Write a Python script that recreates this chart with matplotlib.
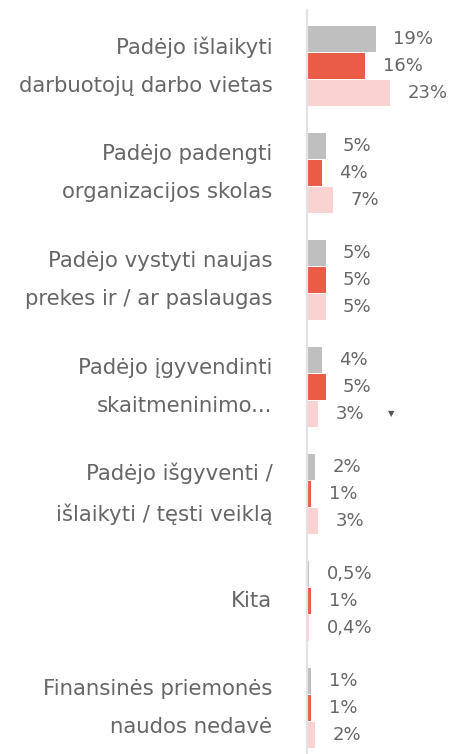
import matplotlib.pyplot as plt
import numpy as np

# data
categories = ["Padėjo išlaikyti\ndarbuotojų darbo vietas",
              "Padėjo padengti\norganizacijos skolas",
              "Padėjo vystyti naujas\nprekes ir / ar paslaugas",
              "Padėjo įgyvendinti\nskaitmeninimo...",
              "Padėjo išgyventi /\nišlaikyti / tęsti veiklą",
              "Kita",
              "Finansinės priemonės\nnaudos nedavė"]
gray_vals = [19, 5, 5, 4, 2, 0.5, 1]
red_vals = [16, 4, 5, 5, 1, 1, 1]
pink_vals = [23, 7, 5, 3, 3, 0.4, 2]

colors = ["#bfbfbf", "#ea5b48", "#fbd2d2"]
text_color = "#666666"

plt.rcParams['font.family'] = ['DejaVu Sans']

fig = plt.figure(figsize=(4.54, 7.54), dpi=100)
ax = fig.add_axes([307 / 454, 0, 147 / 454, 1 - 10 / 754])

y = np.arange(len(categories))
h = 0.243
off = 0.252
for vals, dy, c in zip([gray_vals, red_vals, pink_vals], [-off, 0, off], colors):
    ax.barh(y + dy, vals, height=h, color=c, left=0.15)
    for yi, v in zip(y, vals):
        lbl = (f"{v:g}".replace(".", ",")) + "%"
        ax.annotate(lbl, (v, yi + dy), xytext=(18, 0), textcoords="offset pixels",
                    va="center", ha="left", fontsize=13, color=text_color)

# small dropdown marker
ax.text(23.5, 3 + off, "▼", fontsize=6, color="#555555", va="center", ha="center")

ax.set_xlim(0, 147 / 3.6)
ax.set_ylim(6.43, -0.523)
ax.set_yticks(y)
ax.set_yticklabels(categories, fontsize=15.3, color=text_color, linespacing=2.12,
                   multialignment="right")
for t in ax.get_yticklabels():
    t.set_va("center")
ax.tick_params(axis="y", length=0, pad=25)
ax.set_xticks([])
for s in ["top", "right", "bottom"]:
    ax.spines[s].set_visible(False)
ax.spines["left"].set_color("#e3e3e3")
ax.spines["left"].set_linewidth(1.6)

fig.savefig("out.png", dpi=100)
